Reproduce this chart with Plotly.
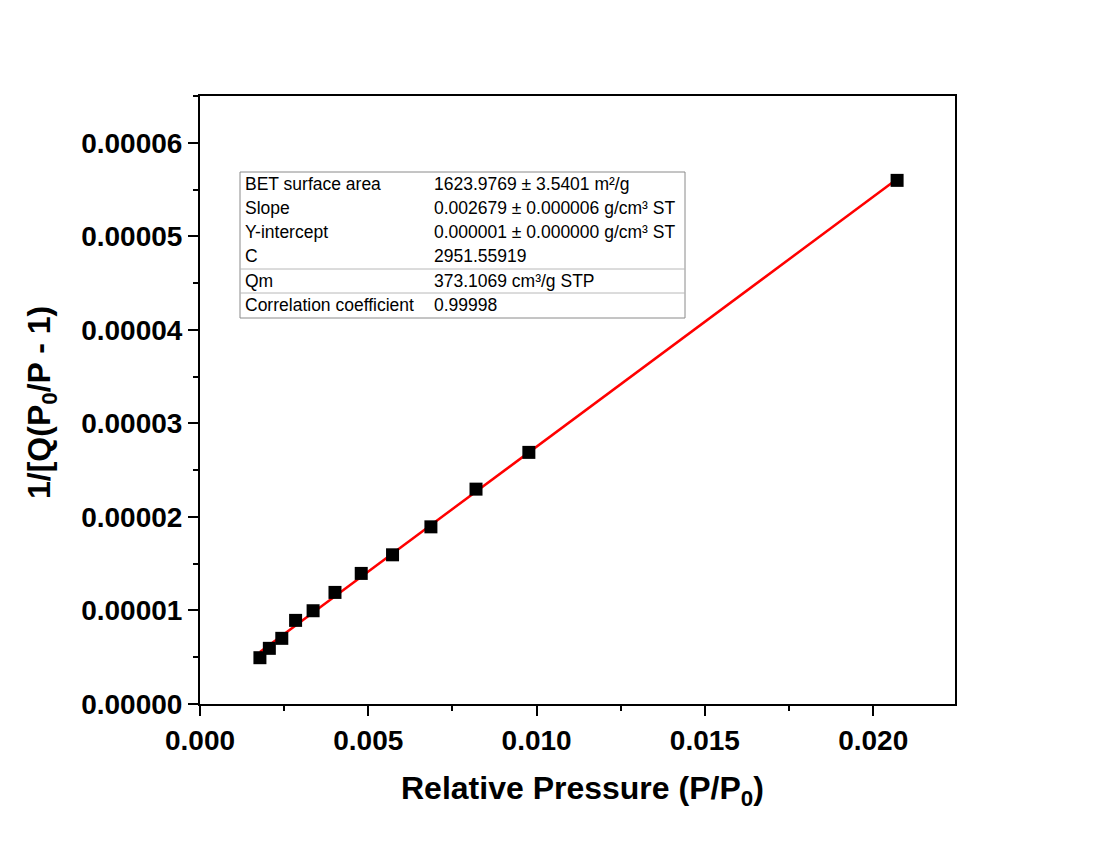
import numpy as np
import plotly.graph_objects as go

# Data
rel_pressure = [0.00178, 0.00206, 0.00243, 0.00284, 0.00336, 0.00401,
                0.00479, 0.00572, 0.00686, 0.00820, 0.00977, 0.02071]
bet_y = [4.95e-6, 5.95e-6, 7.02e-6, 8.94e-6, 9.97e-6, 1.193e-5,
         1.396e-5, 1.595e-5, 1.894e-5, 2.297e-5, 2.69e-5, 5.598e-5]

table_labels = ["BET surface area", "Slope", "Y-intercept", "C", "Qm",
                "Correlation coefficient"]
table_values = ["1623.9769 ± 3.5401 m²/g",
                "0.002679 ± 0.000006 g/cm³ ST",
                "0.000001 ± 0.000000 g/cm³ ST",
                "2951.55919",
                "373.1069 cm³/g STP",
                "0.99998"]

# Linear fit line through the points
coef = np.polyfit(rel_pressure, bet_y, 1)
fit_x = [min(rel_pressure), max(rel_pressure)]
fit_y = [coef[0] * v + coef[1] for v in fit_x]

FONT = "Liberation Sans, Arial, sans-serif"

fig = go.Figure()
fig.add_trace(go.Scatter(x=fit_x, y=fit_y, mode="lines",
                         line=dict(color="#ff0000", width=2.5),
                         showlegend=False, hoverinfo="skip"))
fig.add_trace(go.Scatter(x=rel_pressure, y=bet_y, mode="markers",
                         marker=dict(symbol="square", size=13, color="black",
                                     line=dict(width=0)),
                         showlegend=False))

W, H = 1094, 841
L, R, T, B = 200, 139, 96, 137
pw, ph = W - L - R, H - T - B

def px(xp):
    return (xp - L) / pw

def py(yp):
    return (H - B - yp) / ph

axis_common = dict(showline=True, linewidth=2, linecolor="black", mirror=True,
                   ticks="outside", ticklen=10, tickwidth=2, tickcolor="black",
                   showgrid=False, zeroline=False,
                   tickfont=dict(family=FONT, size=28, color="black", weight="bold"))

fig.update_layout(
    width=W, height=H,
    margin=dict(l=L, r=R, t=T, b=B),
    paper_bgcolor="white", plot_bgcolor="white",
    xaxis=dict(range=[0, 0.02243], dtick=0.005, tick0=0, tickformat=".3f",
               minor=dict(dtick=0.0025, ticks="outside", ticklen=5,
                          tickwidth=2, tickcolor="black"),
               **axis_common),
    yaxis=dict(range=[0, 0.000065], dtick=0.00001, tick0=0, tickformat=".5f",
               minor=dict(dtick=0.000005, ticks="outside", ticklen=5,
                          tickwidth=2, tickcolor="black"),
               **axis_common),
)

# Axis titles
fig.add_annotation(xref="paper", yref="paper", x=px(582), y=py(790),
                   text="Relative Pressure (P/P<sub>0</sub>)", showarrow=False,
                   font=dict(family=FONT, size=32, color="black", weight="bold"),
                   xanchor="center", yanchor="middle")
fig.add_annotation(xref="paper", yref="paper", x=px(42), y=py(403),
                   text="1/[Q(P<sub>0</sub>/P - 1)", showarrow=False, textangle=-90,
                   font=dict(family=FONT, size=32, color="black", weight="bold"),
                   xanchor="center", yanchor="middle")

# Table box
tl, tr, tt, tb = 240, 685, 172, 318
fig.add_shape(type="rect", xref="paper", yref="paper",
              x0=px(tl), x1=px(tr), y0=py(tb), y1=py(tt),
              line=dict(color="#8a8a8a", width=1), fillcolor="white", layer="above")
for sep in [269, 293]:
    fig.add_shape(type="line", xref="paper", yref="paper",
                  x0=px(tl), x1=px(tr), y0=py(sep), y1=py(sep),
                  line=dict(color="#b8b8b8", width=1), layer="above")

row_y = [184, 208, 232, 256, 281, 305]
for lab, val, yy in zip(table_labels, table_values, row_y):
    fig.add_annotation(xref="paper", yref="paper", x=px(243), y=py(yy),
                       text=lab, showarrow=False, xanchor="left", yanchor="middle",
                       font=dict(family=FONT, size=17.5, color="black"))
    fig.add_annotation(xref="paper", yref="paper", x=px(432), y=py(yy),
                       text=val, showarrow=False, xanchor="left", yanchor="middle",
                       font=dict(family=FONT, size=17.5, color="black"))

fig.write_html("out.html")
